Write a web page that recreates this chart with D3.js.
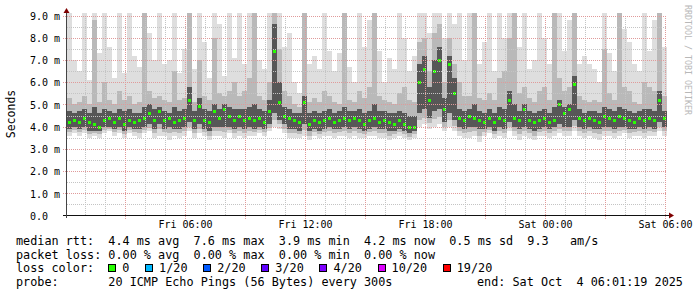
<!DOCTYPE html>
<html>
<head>
<meta charset="utf-8">
<script src="https://d3js.org/d3.v7.min.js"></script>
<title>SmokePing latency</title>
<style>
  body { margin: 0; background: #fff; }
  text { font-family: "DejaVu Sans Mono", monospace; white-space: pre; }
</style>
</head>
<body>
<div id="chart"></div>
<script>
// time axis: one smoke column every 15 minutes
const START = new Date(2025, 9, 3, 0, 6);
const END = new Date(2025, 9, 4, 6, 6);
const STEP_MIN = 15;

// ping distribution per column, in ms (values above 9 are cut off by the chart)
const hiMs = [
  9.5,7.0,6.5,9.5,6.1,9.5,7.3,9.5,7.6,6.2,
  9.5,6.4,9.5,7.2,6.7,9.5,8.2,7.0,9.5,6.8,
  7.0,9.5,6.4,7.5,9.5,6.6,9.5,7.8,6.2,9.5,
  8.6,6.3,9.5,7.1,9.5,6.8,9.5,9.5,7.0,6.6,
  9.5,9.5,9.5,7.6,8.2,6.0,5.5,9.5,6.8,7.2,
  6.6,9.5,7.4,6.5,7.3,9.5,6.7,6.0,9.5,7.6,
  8.8,9.5,7.4,6.0,7.1,6.6,9.5,8.0,6.5,7.2,
  9.5,9.5,8.2,9.5,9.5,8.0,9.5,8.6,9.5,7.0,
  9.2,9.5,6.8,7.8,9.5,6.5,9.5,8.0,9.5,9.5,
  7.6,9.5,6.6,7.0,9.5,8.0,6.8,9.5,9.5,7.4,
  8.8,9.5,6.8,7.2,6.8,6.6,6.0,9.5,7.3,6.5,
  9.5,8.4,7.8,6.8,6.5,9.5,7.4,8.8,9.5,7.6
];
const p90Ms = [
  5.3,5.0,5.1,5.4,5.0,8.8,5.1,6.0,5.2,5.0,
  5.6,5.2,5.4,5.0,5.1,9.2,5.6,5.3,5.4,5.2,
  5.1,6.5,5.2,5.3,9.5,5.1,7.0,5.4,5.2,8.0,
  5.5,5.4,5.6,6.0,5.4,5.6,6.2,9.5,5.4,5.2,
  6.0,9.5,7.5,5.6,5.4,5.0,4.9,9.5,5.1,5.3,
  5.1,5.6,5.4,5.1,5.0,9.3,5.2,5.1,5.6,5.3,
  5.8,9.5,5.4,5.2,5.1,5.0,5.5,5.8,5.2,5.1,
  7.8,8.0,6.5,8.2,8.6,6.0,8.0,6.8,6.0,5.4,
  5.4,9.5,5.3,5.2,5.5,5.2,6.2,6.5,8.0,9.5,
  5.5,5.8,5.3,5.1,5.6,5.8,5.2,9.5,6.2,5.6,
  5.8,9.5,5.4,5.2,5.1,5.2,5.1,7.5,5.5,5.2,
  9.5,5.8,5.6,5.1,5.0,6.0,5.8,5.6,9.5,5.4
];
const q3Ms = [
  4.7,4.6,4.7,4.8,4.6,4.9,4.6,4.8,4.7,4.6,
  4.8,4.7,4.8,4.6,4.6,4.9,5.0,4.8,4.9,4.7,
  4.6,4.9,4.7,4.8,5.8,4.7,5.3,4.8,4.7,5.0,
  4.8,5.0,4.9,4.8,4.8,4.8,4.9,5.0,4.8,4.7,
  5.2,8.6,6.0,4.9,4.8,4.6,4.6,5.4,4.6,4.7,
  4.6,4.7,4.8,4.6,4.7,4.9,4.7,4.7,4.8,4.6,
  4.7,5.0,4.7,4.7,4.6,4.6,4.7,4.6,4.5,4.5,
  6.8,7.2,5.8,7.0,7.6,5.3,7.2,6.2,4.8,4.7,
  4.8,5.0,4.7,4.6,4.8,4.6,4.9,4.8,5.6,5.0,
  4.7,5.0,4.7,4.6,4.7,4.8,4.6,4.9,5.2,4.9,
  5.0,6.3,4.8,4.6,4.7,4.7,4.6,4.9,4.8,4.7,
  4.9,4.8,4.7,4.6,4.7,4.8,4.8,4.7,5.6,4.7
];
const medMs = [
  4.2,4.3,4.2,4.4,4.2,4.1,4.0,4.3,4.4,4.2,
  4.4,4.1,4.3,4.2,4.3,4.4,4.6,4.3,4.7,4.3,
  4.4,4.2,4.3,4.4,5.2,4.3,4.95,4.3,4.2,4.7,
  4.4,4.8,4.5,4.3,4.5,4.3,4.4,4.3,4.4,4.2,
  4.7,7.4,5.1,4.5,4.4,4.3,4.2,5.1,4.1,4.3,
  4.2,4.3,4.4,4.2,4.3,4.4,4.3,4.4,4.3,4.1,
  4.3,4.4,4.2,4.3,4.2,4.1,4.3,4.1,4.0,4.0,
  6.0,6.6,5.2,6.5,7.0,4.8,6.8,5.5,4.4,4.3,
  4.5,4.4,4.3,4.2,4.4,4.2,4.4,4.3,5.2,4.4,
  4.3,4.8,4.3,4.2,4.3,4.4,4.2,4.3,5.0,4.6,
  4.8,5.9,4.4,4.3,4.4,4.3,4.2,4.5,4.4,4.3,
  4.5,4.4,4.3,4.2,4.4,4.3,4.4,4.3,5.2,4.4
];
const q1Ms = [
  3.9,4.0,3.9,4.0,3.8,3.8,3.8,4.0,4.0,3.9,
  4.0,3.8,4.0,3.9,3.9,4.0,4.1,3.9,4.1,3.9,
  4.0,3.9,3.9,4.0,4.2,3.9,4.1,3.9,3.8,4.0,
  4.0,4.0,4.0,3.9,4.0,3.9,4.0,3.9,4.0,3.9,
  4.1,4.6,4.3,4.1,3.9,3.9,3.8,4.1,3.8,3.9,
  3.8,3.9,4.0,3.9,3.9,4.0,3.9,4.0,3.9,3.8,
  3.9,4.0,3.9,3.9,3.8,3.8,3.9,3.8,3.7,3.8,
  4.6,4.8,4.4,4.7,4.8,4.2,4.6,4.3,4.0,3.9,
  4.0,4.0,3.9,3.9,4.0,3.8,4.0,3.9,4.2,4.0,
  3.9,4.0,3.9,3.8,3.9,4.0,3.9,4.0,4.1,4.0,
  4.0,4.3,4.0,3.9,4.0,3.9,3.9,4.0,4.0,3.9,
  4.0,4.0,3.9,3.9,4.0,3.9,4.0,3.9,4.2,4.0
];
const p10Ms = [
  3.75,3.85,3.75,3.85,3.65,3.7,3.65,3.85,3.9,3.75,
  3.85,3.65,3.85,3.75,3.7,3.85,3.95,3.7,3.9,3.75,
  3.7,3.75,3.7,3.8,4.0,3.7,3.9,3.75,3.6,3.8,
  3.8,3.75,3.85,3.7,3.8,3.7,3.8,3.75,3.85,3.75,
  3.95,4.3,4.1,3.9,3.7,3.7,3.65,3.85,3.6,3.75,
  3.65,3.75,3.8,3.7,3.75,3.8,3.7,3.8,3.7,3.65,
  3.75,3.8,3.7,3.7,3.6,3.65,3.75,3.65,3.55,3.65,
  4.3,4.4,4.15,4.35,4.45,4.0,4.3,4.05,3.8,3.7,
  3.75,3.8,3.6,3.75,3.85,3.65,3.8,3.7,4.0,3.8,
  3.65,3.8,3.7,3.6,3.75,3.8,3.7,3.8,3.9,3.8,
  3.8,4.05,3.8,3.7,3.8,3.7,3.65,3.8,3.8,3.7,
  3.8,3.85,3.7,3.75,3.8,3.7,3.8,3.75,4.0,3.8
];
const loMs = [
  3.6,3.7,3.6,3.7,3.5,3.6,3.5,3.7,3.8,3.6,
  3.7,3.5,3.7,3.6,3.5,3.7,3.8,3.5,3.6,3.6,
  3.4,3.6,3.5,3.6,3.8,3.5,3.7,3.6,3.4,3.6,
  3.6,3.5,3.7,3.5,3.6,3.5,3.6,3.6,3.7,3.6,
  3.8,4.0,3.9,3.7,3.5,3.5,3.5,3.6,3.4,3.6,
  3.5,3.6,3.6,3.5,3.6,3.6,3.5,3.6,3.5,3.5,
  3.6,3.6,3.5,3.5,3.4,3.5,3.6,3.5,3.4,3.5,
  4.0,4.1,3.9,4.0,4.1,3.8,4.0,3.8,3.6,3.5,
  3.5,3.6,3.3,3.6,3.7,3.5,3.6,3.5,3.8,3.6,
  3.4,3.6,3.5,3.4,3.6,3.6,3.5,3.6,3.7,3.6,
  3.6,3.8,3.6,3.5,3.6,3.5,3.4,3.6,3.6,3.5,
  3.6,3.7,3.5,3.6,3.6,3.5,3.6,3.6,3.8,3.6
];

const yTickMs = [0, 1, 2, 3, 4, 5, 6, 7, 8, 9];
const xLabelTimes = [
  new Date(2025, 9, 3, 6), new Date(2025, 9, 3, 12), new Date(2025, 9, 3, 18),
  new Date(2025, 9, 4, 0), new Date(2025, 9, 4, 6)
];

const legendLines = [
  "median rtt:  4.4 ms avg  7.6 ms max  3.9 ms min  4.2 ms now  0.5 ms sd  9.3   am/s",
  "packet loss: 0.00 % avg  0.00 % max  0.00 % min  0.00 % now",
  "loss color:",
  "probe:       20 ICMP Echo Pings (56 Bytes) every 300s"
];
const endText = "end: Sat Oct  4 06:01:19 2025";
const lossLabels = ["0", "1/20", "2/20", "3/20", "4/20", "10/20", "19/20"];
const lossColors = ["#26ff00", "#00b8ff", "#0059ff", "#5e00ff", "#7e00ff", "#dd00ff", "#ff0000"];

const W = 697, H = 297;
const svg = d3.select("#chart").append("svg").attr("width", W).attr("height", H);
svg.append("rect").attr("width", W).attr("height", H).attr("fill", "#fff");

const x = d3.scaleTime().domain([START, END]).range([67, 667]);
const y = d3.scaleLinear().domain([0, 9]).range([215.5, 15.5]);
const crisp = v => Math.round(v) + 0.5;

const cols = medMs.map((m, i) => ({
  t: d3.timeMinute.offset(START, i * STEP_MIN),
  lo: loMs[i], p10: p10Ms[i], q1: q1Ms[i], med: m, q3: q3Ms[i], p90: p90Ms[i], hi: hiMs[i]
}));
const bw = x(d3.timeMinute.offset(START, STEP_MIN)) - x(START);

svg.append("clipPath").attr("id", "plotclip")
  .append("rect").attr("x", 67).attr("y", 13).attr("width", 600).attr("height", 202.5);

const plot = svg.append("g").attr("clip-path", "url(#plotclip)").attr("shape-rendering", "crispEdges");

// smoke: light outer range, mid-gray inner range, dark core
function band(lowKey, highKey, color) {
  plot.append("g").selectAll("rect").data(cols).join("rect")
    .attr("x", d => x(d.t))
    .attr("width", bw)
    .attr("y", d => y(d[highKey]))
    .attr("height", d => y(d[lowKey]) - y(d[highKey]))
    .attr("fill", color);
}
band("lo", "hi", "#dedede");
band("p10", "p90", "#b9b9b9");
band("q1", "q3", "#575757");

// grid (drawn over the smoke like rrdtool does)
const grid = svg.append("g").attr("shape-rendering", "crispEdges").attr("stroke-dasharray", "1,1");
const minorY = y.ticks(18).filter(v => !yTickMs.includes(v));
grid.selectAll(".hmin").data(minorY).join("line")
  .attr("x1", 67).attr("x2", 667)
  .attr("y1", d => crisp(y(d))).attr("y2", d => crisp(y(d)))
  .attr("stroke", "#c4c4c4");
const hours = x.ticks(d3.timeHour.every(1));
grid.selectAll(".vmin").data(hours.filter(h => h.getHours() % 3 !== 0)).join("line")
  .attr("x1", d => crisp(x(d))).attr("x2", d => crisp(x(d)))
  .attr("y1", 15.5).attr("y2", 215.5)
  .attr("stroke", "#c4c4c4");
grid.selectAll(".hmaj").data(yTickMs.filter(v => v > 0)).join("line")
  .attr("x1", 63).attr("x2", 667)
  .attr("y1", d => crisp(y(d))).attr("y2", d => crisp(y(d)))
  .attr("stroke", "#e09a9a");
grid.selectAll(".vmaj").data(hours.filter(h => h.getHours() % 3 === 0)).join("line")
  .attr("x1", d => crisp(x(d))).attr("x2", d => crisp(x(d)))
  .attr("y1", 15.5).attr("y2", 219)
  .attr("stroke", "#e09a9a");

// median, coloured by loss (all zero loss here)
plot.append("g").selectAll("rect").data(cols).join("rect")
  .attr("x", d => x(d.t) + 1)
  .attr("width", 3)
  .attr("y", d => Math.round(y(d.med)) - 1.5)
  .attr("height", 3)
  .attr("fill", lossColors[0]);

// axes
const axes = svg.append("g").attr("shape-rendering", "crispEdges");
axes.append("line").attr("x1", 63).attr("x2", 669).attr("y1", 215.5).attr("y2", 215.5).attr("stroke", "#111");
axes.append("line").attr("x1", 66.5).attr("x2", 66.5).attr("y1", 218).attr("y2", 12).attr("stroke", "#444");
svg.append("path").attr("d", "M669,212.5L674,215.5L669,218.5Z").attr("fill", "#7f0000");
svg.append("path").attr("d", "M63.5,13L66.5,8L69.5,13Z").attr("fill", "#7f0000");

const yAxis = d3.axisLeft(y).tickValues(yTickMs).tickSize(0)
  .tickFormat(v => v === 0 ? "0.0" : d3.format(".1f")(v) + " m");
svg.append("g").attr("transform", "translate(67,0)").call(yAxis)
  .call(g => g.select(".domain").remove())
  .attr("font-family", null).attr("font-size", 10)
  .selectAll("text")
  .attr("text-anchor", "start").attr("x", -37).attr("dy", "0.38em").attr("fill", "#000");

const xAxis = d3.axisBottom(x).tickValues(xLabelTimes).tickSize(0).tickFormat(d3.timeFormat("%a %H:%M"));
svg.append("g").attr("transform", "translate(0,215.5)").call(xAxis)
  .call(g => g.select(".domain").remove())
  .attr("font-family", null).attr("font-size", 10)
  .selectAll("text").attr("y", 12).attr("dy", 0).attr("fill", "#000");

// axis title and watermark
svg.append("text").attr("transform", "translate(15,114) rotate(-90)")
  .attr("text-anchor", "middle").attr("font-size", 11.5).attr("fill", "#000").text("Seconds");
svg.append("text").attr("transform", "translate(685,5) rotate(90)")
  .attr("font-size", 8.3).attr("fill", "#b8b8b8").text("RRDTOOL / TOBI OETIKER");

// legend
const LEG = 11.8, CH = LEG * 0.602;
const rowY = [245, 258.7, 272.4, 286.1];
svg.append("g").selectAll("text").data(legendLines).join("text")
  .attr("x", 16).attr("y", (d, i) => rowY[i])
  .attr("font-size", LEG).attr("fill", "#000").text(d => d);
svg.append("text").attr("x", 477).attr("y", rowY[3])
  .attr("font-size", LEG).attr("fill", "#000").text(endText);

let bx = 108.3;
const boxes = lossLabels.map(l => { const o = { l, bx }; bx += 29.7 + l.length * CH; return o; });
const lg = svg.append("g");
lg.selectAll("rect").data(boxes).join("rect")
  .attr("x", d => Math.round(d.bx) + 0.5).attr("y", 264.5).attr("width", 7).attr("height", 7)
  .attr("fill", (d, i) => lossColors[i]).attr("stroke", "#000").attr("shape-rendering", "crispEdges");
lg.selectAll("text").data(boxes).join("text")
  .attr("x", d => d.bx + 14).attr("y", rowY[2])
  .attr("font-size", LEG).attr("fill", "#000").text(d => d.l);
</script>
</body>
</html>
